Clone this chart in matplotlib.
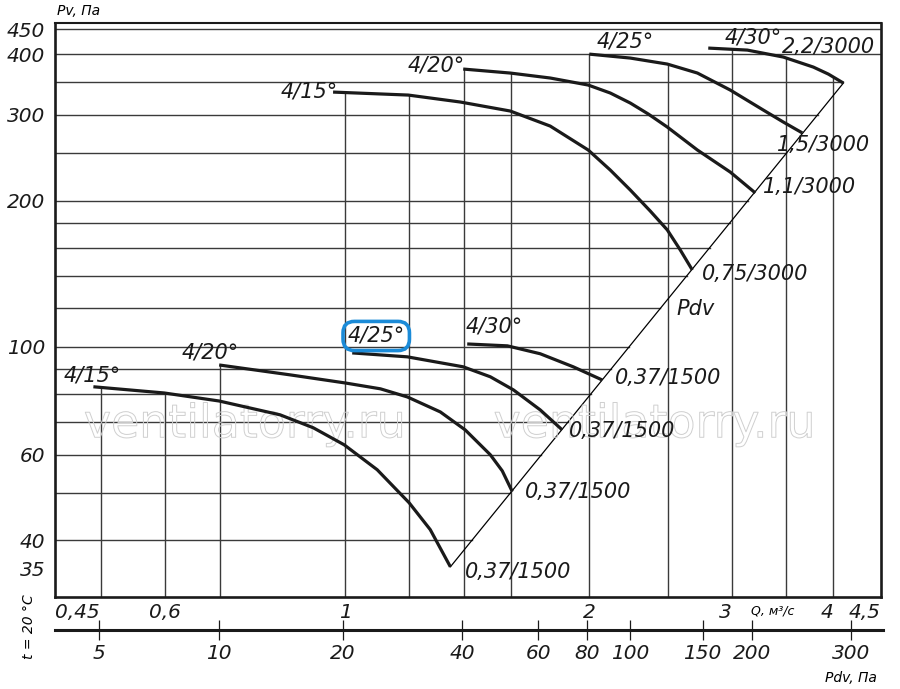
import numpy as np
import matplotlib
matplotlib.use('Agg')
import matplotlib.pyplot as plt
import matplotlib.patheffects as pe

# fan curves: Q [m3/s] vs Pv [Pa]
# 3000 rpm set
q_15_hi = [0.966, 1.196, 1.387, 1.598, 1.790, 1.994, 2.123, 2.247, 2.378, 2.496, 2.590, 2.680]
p_15_hi = [334.2, 329.5, 318.8, 305.5, 284.5, 254.0, 231.0, 210.2, 190.3, 174.0, 158.2, 143.9]
q_20_hi = [1.398, 1.598, 1.790, 1.994, 2.123, 2.247, 2.365, 2.496, 2.719, 2.985, 3.205]
p_20_hi = [372.7, 365.7, 357.2, 345.5, 332.7, 317.3, 301.2, 283.2, 254.0, 228.8, 207.3]
q_25_hi = [2.000, 2.247, 2.496, 2.719, 2.985, 3.279, 3.470, 3.663]
p_25_hi = [400.0, 392.6, 381.6, 365.7, 337.4, 306.9, 290.0, 275.4]
q_30_hi = [2.804, 3.133, 3.470, 3.779, 3.944, 4.116]
p_30_hi = [411.6, 407.7, 394.5, 376.2, 363.9, 348.8]
# 1500 rpm set
q_15_lo = [0.489, 0.598, 0.699, 0.831, 0.913, 0.997, 1.095, 1.199, 1.273, 1.348]
p_15_lo = [82.8, 80.4, 77.4, 72.5, 68.2, 62.9, 55.9, 47.8, 42.1, 35.3]
q_20_lo = [0.699, 0.855, 1.000, 1.105, 1.193, 1.310, 1.406, 1.510, 1.562, 1.607]
p_20_lo = [91.8, 87.6, 84.3, 82.0, 78.9, 73.5, 67.5, 60.0, 55.6, 50.4]
q_25_lo = [1.020, 1.193, 1.398, 1.510, 1.612, 1.740, 1.852]
p_25_lo = [97.2, 95.4, 91.0, 86.8, 81.6, 74.2, 67.5]
q_30_lo = [1.414, 1.585, 1.740, 1.911, 2.075]
p_30_lo = [101.4, 100.5, 96.8, 91.0, 85.5]

curves = [(q_15_hi, p_15_hi), (q_20_hi, p_20_hi), (q_25_hi, p_25_hi), (q_30_hi, p_30_hi),
          (q_15_lo, p_15_lo), (q_20_lo, p_20_lo), (q_25_lo, p_25_lo), (q_30_lo, p_30_lo)]

# dynamic pressure line
pdv_q = [1.348, 4.116]
pdv_p = [35.3, 348.8]

# grid
grid_q = [0.5, 0.6, 0.7, 1.0, 1.2, 1.4, 1.6, 2.0, 2.5, 3.0, 3.5, 4.0]
grid_p = [40, 50, 60, 70, 80, 90, 100, 120, 140, 160, 180, 200, 250, 300, 350, 400, 450]

q_lim = (0.4385, 4.58)
p_lim = (30.6, 463.5)

p_ticks = [35, 40, 60, 100, 200, 300, 400, 450]
q_ticks = [0.4385, 0.6, 1, 2, 3, 4, 4.58]
q_tick_labels = ['0,45', '0,6', '1', '2', '3', '4', '4,5']
pdv_ticks = ['5', '10', '20', '40', '60', '80', '100', '150', '200', '300']
pdv_tick_q = [0.497, 0.699, 0.994, 1.394, 1.73, 1.99, 2.246, 2.76, 3.18, 4.21]

# curve labels (text, Q, P)
labels = [('4/15°', 0.903, 335.7), ('4/20°', 1.295, 379.8), ('4/25°', 2.215, 425.5),
          ('4/30°', 3.186, 433.6), ('2,2/3000', 3.944, 413.6), ('1,5/3000', 3.888, 260.1),
          ('1,1/3000', 3.736, 213.2), ('0,75/3000', 3.205, 141.3), ('Pdv', 2.703, 119.7),
          ('4/15°', 0.4874, 87.2), ('4/20°', 0.6815, 97.2), ('4/30°', 1.527, 109.9),
          ('0,37/1500', 2.503, 86.4), ('0,37/1500', 2.196, 67.2), ('0,37/1500', 1.939, 50.4),
          ('0,37/1500', 1.635, 34.5)]
boxed_label = ('4/25°', 1.092, 105.3)

W, H = 900, 689
fig = plt.figure(figsize=(9, 6.89), dpi=100)
ax = fig.add_axes([55 / W, 1 - 597 / H, 826 / W, 574 / H])
ax.set_xscale('log')
ax.set_yscale('log')
ax.set_xlim(q_lim)
ax.set_ylim(p_lim)

lq = lambda v: np.log10(v)


def curve_top(q):
    tops = []
    for cq, cp in curves:
        if cq[0] <= q * 1.002 and q <= cq[-1]:
            tops.append(10 ** np.interp(lq(q), lq(cq), lq(cp)))
    return max(tops) if tops else p_lim[1]


gcol = '#3a3a3a'
for q in grid_q:
    ax.plot([q, q], [p_lim[0], curve_top(q)], color=gcol, lw=1.0, zorder=1)
for p in grid_p:
    if p > pdv_p[-1] * 1.05:
        qend = q_lim[1]
    else:
        qend = 10 ** np.interp(lq(p), lq(pdv_p), lq(pdv_q))
    ax.plot([q_lim[0], qend], [p, p], color=gcol, lw=1.0, zorder=1)

ax.plot(pdv_q, pdv_p, color='black', lw=0.9, zorder=2)

for cq, cp in curves:
    ax.plot(cq, cp, color='#1a1a1a', lw=2.3, zorder=4, solid_capstyle='butt',
            solid_joinstyle='round')

fs = 15
for txt, q, p in labels:
    ax.text(q, p, txt, fontsize=fs, fontstyle='italic', ha='center', va='center',
            color='#1a1a1a', zorder=5)
ax.text(boxed_label[1], boxed_label[2], boxed_label[0], fontsize=fs, fontstyle='italic',
        ha='center', va='center', color='#1a1a1a', zorder=5,
        bbox=dict(boxstyle='round,pad=0.22,rounding_size=0.55', fc='none', ec='#1b8bd8', lw=2.6))

# watermark
for xf in [0.230, 0.726]:
    ax.text(xf, 0.30, 'ventilatorry.ru', transform=ax.transAxes, fontsize=33,
            ha='center', va='center', color='none', zorder=3,
            path_effects=[pe.Stroke(linewidth=0.7, foreground='#cfcfcf')])

for side in ['left', 'bottom', 'right']:
    ax.spines[side].set_linewidth(1.9)
ax.spines['top'].set_linewidth(1.5)
for sp in ax.spines.values():
    sp.set_color('#1a1a1a')

ax.set_yticks(p_ticks)
ax.set_yticklabels([str(v) for v in p_ticks])
ax.yaxis.set_minor_locator(matplotlib.ticker.NullLocator())
ax.xaxis.set_minor_locator(matplotlib.ticker.NullLocator())
ax.set_xticks(q_ticks)
ax.set_xticklabels(q_tick_labels)
ax.tick_params(axis='both', length=0, labelsize=14.5, colors='#1a1a1a')
ax.tick_params(axis='y', pad=7)
ax.tick_params(axis='x', pad=4)
for lab in ax.get_xticklabels() + ax.get_yticklabels():
    lab.set_fontstyle('italic')
xl = ax.get_xticklabels()
xl[0].set_ha('left')
xl[-1].set_ha('right')
xl[4].set_ha('right')
xl[5].set_ha('right')

# Pdv scale below
ax2 = fig.add_axes([55 / W, 1 - 630 / H, 828 / W, 0.0001])
ax2.set_xscale('log')
ax2.set_xlim(q_lim[0], q_lim[1] * 1.006)
ax2.set_yticks([])
for side in ['left', 'right', 'top']:
    ax2.spines[side].set_visible(False)
ax2.spines['bottom'].set_linewidth(2.2)
ax2.spines['bottom'].set_color('#1a1a1a')
ax2.xaxis.set_minor_locator(matplotlib.ticker.NullLocator())
ax2.set_xticks(pdv_tick_q)
ax2.set_xticklabels(pdv_ticks)
ax2.tick_params(axis='x', direction='inout', length=14, width=0.9, labelsize=14.5,
                pad=3, colors='#1a1a1a')
for lab in ax2.get_xticklabels():
    lab.set_fontstyle('italic')

fig.text(57 / W, 1 - 11 / H, 'Pv, Па', fontsize=10, fontstyle='italic', ha='left', va='center')
fig.text(773 / W, 1 - 611 / H, 'Q, м³/с', fontsize=9, fontstyle='italic', ha='center', va='center')
fig.text(877 / W, 1 - 678 / H, 'Pdv, Па', fontsize=10, fontstyle='italic', ha='right', va='center')
fig.text(29 / W, 1 - 627 / H, 't = 20 °C', fontsize=10, fontstyle='italic', rotation=90,
         ha='center', va='center')

fig.savefig('out.png', dpi=100)
